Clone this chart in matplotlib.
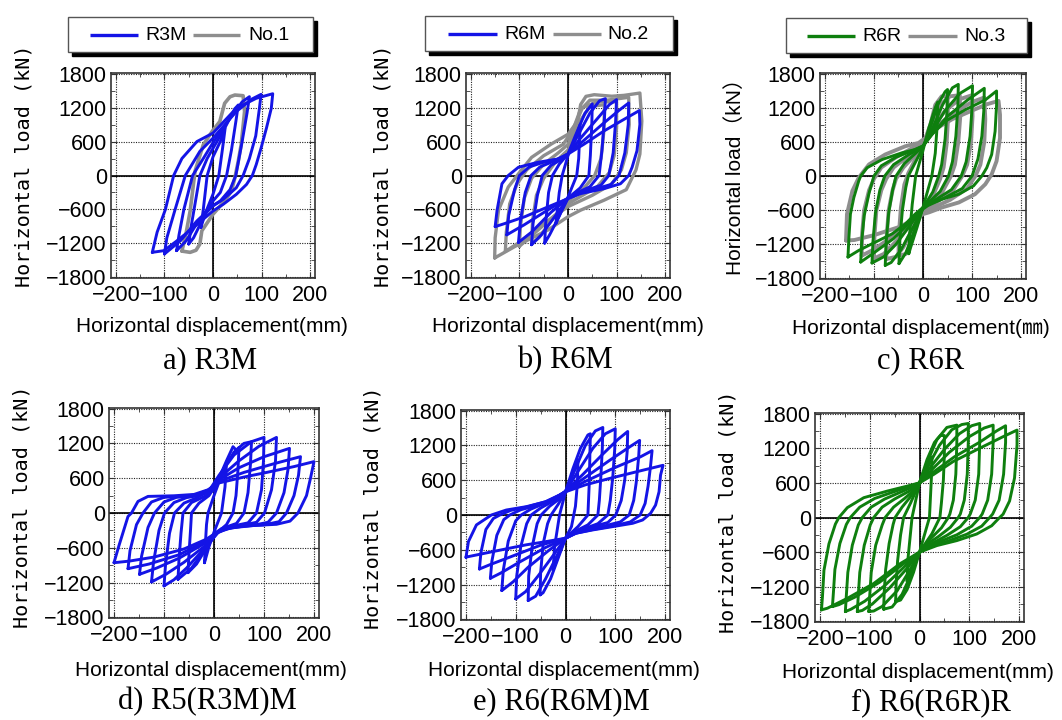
import matplotlib
matplotlib.use("Agg")
import matplotlib.pyplot as plt
from matplotlib.lines import Line2D
from matplotlib.patches import Rectangle

plt.rcParams['font.family'] = ['Liberation Sans', 'DejaVu Sans']

W, H = 1062, 720

# every loop: from the negative peak up to the positive peak and back down
r3m = [
    [(-25, -918), (-20, -600), (-12, 0), (0, 330), (15, 600), (25, 836),
     (20, 500), (12, 0), (0, -330), (-15, -650), (-25, -918)],
    [(-50, -1210), (-45, -900), (-37, -500), (-27, 0), (-12, 300), (0, 480), (25, 850), (45, 1180), (52, 1245),
     (47, 950), (38, 450), (28, 0), (15, -300), (0, -450), (-20, -750), (-40, -1100), (-50, -1210)],
    [(-75, -1327), (-70, -1050), (-60, -600), (-42, 0), (-20, 300), (0, 580), (30, 950), (60, 1300), (75, 1392),
     (70, 1100), (60, 600), (47, 0), (35, -250), (15, -450), (0, -530), (-30, -800), (-55, -1150), (-75, -1327)],
    [(-100, -1386), (-95, -1100), (-78, -600), (-57, 0), (-27, 427), (0, 660), (48, 1129), (80, 1350), (99, 1433),
     (95, 1150), (88, 700), (75, 300), (62, 0), (48, -216), (21, -421), (0, -538), (-33, -801), (-67, -1152),
     (-100, -1386)],
    [(-125, -1357), (-115, -1000), (-98, -600), (-81, 0), (-64, 300), (-33, 600), (0, 749), (48, 1187), (89, 1363),
     (123, 1444), (120, 1187), (110, 836), (99, 485), (89, 193), (81, 0), (69, -158), (48, -333), (21, -509),
     (0, -626), (-40, -918), (-74, -1152), (-101, -1327), (-125, -1357)],
]
no1 = [
    [(-64, -1335), (-55, -1000), (-47, -626), (-37, 76), (-20, 544), (0, 800), (14, 953), (24, 1275), (35, 1390),
     (45, 1421), (62, 1409), (65, 1128), (58, 544), (52, 251), (45, -41), (38, -275), (24, -450), (0, -684),
     (-23, -977), (-27, -1210), (-35, -1320), (-47, -1357), (-64, -1335)],
]

r6m = [
    [(-25, -850), (-18, -300), (-12, 0), (0, 350), (15, 650), (25, 900),
     (22, 300), (18, 0), (0, -380), (-15, -650), (-25, -850)],
    [(-48, -1194), (-46, -850), (-40, -300), (-32, 0), (-18, 200), (0, 380), (15, 700), (35, 1100), (50, 1264),
     (49, 900), (46, 350), (43, 0), (25, -220), (0, -400), (-20, -750), (-38, -1050), (-48, -1194)],
    [(-75, -1223), (-72, -850), (-63, -350), (-53, 0), (-35, 180), (-12, 290), (0, 380), (20, 700), (45, 1100),
     (65, 1320), (77, 1357), (75, 1000), (70, 450), (64, 0), (45, -200), (15, -320), (0, -400), (-25, -700),
     (-55, -1050), (-75, -1223)],
    [(-102, -1182), (-98, -800), (-88, -300), (-76, 0), (-58, 150), (-30, 250), (0, 380), (25, 650), (60, 1000),
     (85, 1250), (100, 1340), (98, 950), (93, 400), (84, 0), (68, -170), (32, -280), (0, -400), (-35, -650),
     (-75, -1000), (-102, -1182)],
    [(-126, -1048), (-122, -700), (-110, -250), (-100, 0), (-80, 150), (-50, 235), (-15, 300), (0, 380), (30, 600),
     (70, 900), (105, 1150), (125, 1281), (124, 900), (117, 400), (105, 0), (88, -160), (55, -240), (15, -330),
     (0, -400), (-40, -600), (-90, -870), (-126, -1048)],
    [(-150, -903), (-146, -612), (-136, -146), (-123, 0), (-102, 146), (-62, 233), (-21, 291), (0, 379), (33, 553),
     (74, 786), (115, 990), (147, 1147), (148, 903), (142, 437), (132, 146), (125, 0), (108, -146), (74, -233),
     (26, -320), (0, -408), (-41, -553), (-89, -728), (-129, -845), (-150, -903)],
]
no2 = [
    [(-151, -1456), (-150, -1100), (-143, -612), (-123, -204), (-102, 29), (-75, 320), (-35, 553), (0, 728),
     (20, 961), (26, 1252), (37, 1398), (54, 1427), (90, 1400), (115, 1415), (148, 1456), (152, 961), (148, 379),
     (140, 100), (120, -250), (74, -437), (26, -612), (0, -728), (-41, -961), (-109, -1252), (-151, -1456)],
    [(-129, -1340), (-127, -1000), (-120, -500), (-105, -150), (-85, 100), (-50, 350), (-10, 550), (10, 800),
     (25, 1150), (45, 1330), (80, 1330), (125, 1380), (126, 900), (120, 400), (110, 100), (90, -150), (50, -350),
     (0, -550), (-50, -850), (-100, -1180), (-129, -1340)],
    [(-100, -1250), (-98, -900), (-90, -400), (-75, -50), (-50, 200), (-20, 400), (0, 550), (15, 900), (30, 1200),
     (60, 1300), (100, 1300), (100, 850), (95, 350), (85, 50), (60, -200), (20, -400), (0, -500), (-40, -800),
     (-80, -1100), (-100, -1250)],
    [(-75, -1200), (-73, -800), (-65, -350), (-50, -50), (-25, 250), (0, 450), (20, 900), (45, 1220), (75, 1250),
     (74, 800), (68, 300), (55, 0), (30, -250), (0, -450), (-35, -800), (-60, -1100), (-75, -1200)],
]

r6r = [
    [(-29, -1366), (-27, -1000), (-22, -500), (-15, 0), (0, 450), (12, 850), (25, 1200), (30, 1300),
     (29, 900), (25, 400), (18, 0), (0, -550), (-12, -900), (-25, -1250), (-29, -1366)],
    [(-49, -1541), (-47, -1100), (-42, -600), (-35, -200), (-30, 0), (-15, 250), (0, 500), (15, 850), (30, 1250),
     (45, 1480), (50, 1520), (49, 1150), (45, 650), (38, 200), (32, 0), (20, -280), (0, -560), (-15, -900),
     (-35, -1350), (-49, -1541)],
    [(-77, -1570), (-75, -1150), (-70, -650), (-62, -250), (-55, 0), (-38, 220), (-15, 400), (0, 520), (20, 850),
     (40, 1250), (60, 1550), (72, 1610), (71, 1200), (67, 700), (60, 250), (52, 0), (35, -270), (10, -480),
     (0, -560), (-20, -900), (-45, -1300), (-65, -1520), (-77, -1570)],
    [(-104, -1529), (-102, -1150), (-97, -650), (-88, -250), (-78, 0), (-60, 200), (-30, 370), (0, 520), (20, 800),
     (45, 1150), (75, 1450), (101, 1587), (100, 1200), (96, 700), (88, 250), (78, 0), (58, -240), (25, -420),
     (0, -560), (-25, -850), (-55, -1200), (-80, -1420), (-104, -1529)],
    [(-127, -1512), (-125, -1150), (-120, -700), (-110, -300), (-100, 0), (-85, 180), (-55, 330), (-20, 450),
     (0, 530), (20, 750), (50, 1050), (90, 1330), (125, 1541), (124, 1150), (120, 700), (112, 300), (100, 0),
     (80, -220), (45, -380), (10, -520), (0, -580), (-25, -800), (-60, -1100), (-100, -1350), (-127, -1512)],
    [(-153, -1424), (-151, -1076), (-148, -669), (-141, -378), (-131, -87), (-127, 0), (-114, 145), (-83, 291),
     (-43, 407), (-16, 465), (0, 523), (18, 727), (45, 959), (86, 1163), (127, 1337), (150, 1494), (150, 1250),
     (147, 785), (140, 378), (130, 145), (120, 0), (103, -174), (73, -320), (39, -407), (12, -494), (0, -552),
     (-16, -669), (-36, -843), (-63, -1017), (-104, -1192), (-131, -1308), (-153, -1424)],
]
no3 = [
    [(-50, -1400), (-49, -1000), (-45, -550), (-38, -150), (-30, 50), (-15, 300), (0, 550), (15, 900), (25, 1250),
     (38, 1400), (50, 1400), (51, 1000), (48, 550), (42, 150), (35, -50), (20, -350), (0, -600), (-15, -900),
     (-25, -1200), (-35, -1370), (-50, -1400)],
    [(-75, -1460), (-74, -1050), (-70, -600), (-62, -250), (-55, -50), (-40, 150), (-15, 380), (0, 560), (18, 900),
     (35, 1250), (55, 1400), (75, 1420), (76, 1050), (72, 600), (65, 200), (57, 0), (40, -270), (10, -520),
     (0, -600), (-20, -900), (-40, -1250), (-55, -1420), (-75, -1460)],
    [(-100, -1450), (-99, -1050), (-95, -600), (-85, -250), (-75, -50), (-60, 150), (-30, 350), (0, 560), (20, 850),
     (45, 1150), (75, 1350), (100, 1420), (101, 1050), (98, 600), (90, 200), (80, 0), (62, -240), (30, -450),
     (0, -620), (-25, -850), (-55, -1150), (-80, -1370), (-100, -1450)],
    [(-125, -1400), (-124, -1000), (-120, -600), (-110, -250), (-100, -50), (-85, 150), (-55, 330), (-20, 500),
     (0, 600), (25, 850), (60, 1100), (100, 1300), (125, 1380), (127, 1000), (125, 600), (117, 200), (107, 0),
     (90, -220), (55, -420), (20, -560), (0, -640), (-20, -780), (-60, -1050), (-100, -1290), (-125, -1400)],
    [(-157, -1134), (-156, -900), (-155, -669), (-144, -262), (-131, -29), (-110, 204), (-77, 378), (-36, 523),
     (-9, 581), (5, 669), (30, 850), (60, 1000), (100, 1150), (130, 1260), (154, 1320), (157, 1076), (157, 669),
     (150, 262), (140, 29), (127, -145), (106, -320), (73, -465), (39, -552), (12, -640), (0, -669), (-16, -760),
     (-50, -900), (-100, -1040), (-140, -1125), (-157, -1134)],
]

r5_r3m_m = [
    [(-19, -857), (-17, -500), (-15, -200), (-12, 0), (0, 300), (15, 650), (25, 850),
     (22, 450), (15, 0), (0, -330), (-10, -580), (-19, -857)],
    [(-52, -1029), (-50, -700), (-47, -300), (-45, 0), (-30, 170), (-10, 300), (5, 500), (25, 900), (38, 1143),
     (45, 1080), (50, 1130), (48, 750), (44, 300), (38, 0), (25, -200), (5, -350), (-15, -600), (-35, -880),
     (-52, -1029)],
    [(-72, -1143), (-70, -800), (-66, -350), (-62, 0), (-45, 180), (-20, 280), (0, 400), (15, 700), (40, 1050),
     (60, 1200), (75, 1229), (73, 850), (68, 350), (60, 0), (45, -180), (15, -270), (0, -360), (-20, -650),
     (-45, -950), (-72, -1143)],
    [(-100, -1257), (-97, -900), (-89, -350), (-79, 0), (-60, 170), (-35, 260), (-10, 380), (10, 650), (40, 1000),
     (75, 1230), (100, 1303), (99, 900), (95, 400), (85, 0), (68, -170), (35, -230), (8, -340), (-20, -620),
     (-55, -950), (-80, -1150), (-100, -1257)],
    [(-125, -1189), (-121, -850), (-110, -300), (-99, 0), (-80, 180), (-55, 265), (-25, 310), (-5, 420), (10, 600),
     (50, 900), (90, 1150), (125, 1303), (123, 900), (115, 400), (101, 0), (85, -160), (55, -215), (20, -270),
     (5, -350), (-20, -580), (-60, -850), (-95, -1050), (-125, -1189)],
    [(-149, -1057), (-145, -750), (-132, -250), (-119, 0), (-100, 190), (-75, 270), (-40, 295), (-10, 400),
     (8, 560), (50, 780), (100, 970), (151, 1114), (148, 750), (140, 350), (125, 0), (108, -160), (80, -210),
     (40, -240), (8, -330), (-20, -530), (-70, -780), (-115, -950), (-149, -1057)],
    [(-172, -960), (-168, -650), (-155, -200), (-142, 0), (-125, 190), (-100, 270), (-60, 290), (-30, 320),
     (-10, 400), (8, 540), (60, 700), (120, 850), (173, 971), (169, 650), (160, 300), (145, 0), (130, -150),
     (100, -205), (60, -225), (20, -280), (5, -340), (-20, -500), (-70, -720), (-130, -880), (-172, -960)],
    [(-200, -857), (-190, -560), (-172, -60), (-165, 0), (-152, 200), (-132, 286), (-80, 297), (-40, 320),
     (-12, 400), (8, 514), (60, 620), (100, 690), (160, 800), (200, 886), (193, 600), (185, 300), (168, 0),
     (152, -140), (125, -195), (80, -215), (30, -260), (8, -320), (-15, -450), (-60, -620), (-120, -760),
     (-170, -830), (-200, -857)],
]

r6_r6m_m = [
    [(-25, -950), (-22, -550), (-12, 0), (0, 400), (12, 650), (25, 950),
     (24, 550), (20, 150), (12, -200), (0, -400), (-12, -650), (-25, -950)],
    [(-51, -1377), (-50, -1000), (-45, -500), (-36, -150), (-29, 0), (-15, 180), (0, 400), (15, 800), (30, 1150),
     (45, 1380), (50, 1400), (49, 1050), (48, 600), (46, 200), (45, 0), (25, -200), (0, -400), (-15, -750),
     (-30, -1100), (-45, -1340), (-51, -1377)],
    [(-75, -1474), (-74, -1050), (-67, -550), (-57, -150), (-49, 0), (-32, 150), (-12, 280), (0, 400), (20, 800),
     (40, 1200), (60, 1450), (75, 1509), (74, 1150), (71, 650), (68, 250), (65, 0), (45, -170), (15, -300),
     (0, -400), (-20, -750), (-40, -1100), (-60, -1400), (-75, -1474)],
    [(-100, -1446), (-98, -1050), (-90, -550), (-78, -150), (-69, 0), (-50, 120), (-25, 240), (0, 400), (25, 750),
     (55, 1150), (80, 1400), (100, 1486), (99, 1150), (95, 650), (90, 250), (85, 0), (65, -150), (30, -260),
     (0, -400), (-25, -700), (-55, -1050), (-80, -1320), (-100, -1446)],
    [(-128, -1303), (-125, -950), (-115, -450), (-100, -100), (-89, 0), (-70, 100), (-45, 190), (-20, 290),
     (0, 410), (35, 700), (75, 1050), (105, 1300), (125, 1440), (124, 1100), (119, 600), (112, 250), (101, 0),
     (85, -130), (55, -200), (20, -300), (0, -400), (-35, -620), (-75, -900), (-105, -1150), (-128, -1303)],
    [(-151, -1091), (-148, -800), (-138, -350), (-124, -80), (-112, 0), (-90, 90), (-60, 160), (-30, 250),
     (-10, 350), (0, 410), (40, 650), (90, 950), (130, 1180), (149, 1286), (147, 1000), (142, 550), (137, 250),
     (128, 0), (110, -120), (80, -185), (45, -250), (18, -320), (0, -400), (-40, -560), (-90, -800),
     (-130, -1000), (-151, -1091)],
    [(-173, -931), (-170, -650), (-160, -250), (-145, -60), (-132, 0), (-110, 80), (-75, 145), (-40, 230),
     (-12, 343), (0, 400), (40, 580), (100, 820), (150, 1000), (174, 1109), (171, 850), (166, 500), (160, 200),
     (150, 0), (130, -120), (95, -190), (55, -250), (21, -314), (0, -400), (-50, -520), (-110, -720),
     (-150, -850), (-173, -931)],
    [(-200, -731), (-195, -457), (-179, -171), (-149, 0), (-119, 86), (-79, 143), (-39, 229), (-12, 343), (0, 400),
     (40, 520), (88, 629), (155, 771), (196, 857), (191, 686), (188, 400), (181, 171), (171, 29), (155, -86),
     (135, -143), (95, -200), (55, -257), (21, -314), (0, -400), (-40, -460), (-79, -514), (-145, -629),
     (-200, -726)],
]

r6_r6r_r = [
    [(-25, -1100), (-23, -700), (-15, 0), (0, 600), (12, 850), (25, 1050),
     (24, 700), (20, 0), (0, -600), (-12, -850), (-25, -1100)],
    [(-48, -1457), (-47, -1150), (-44, -750), (-38, -300), (-32, 0), (-18, 250), (0, 600), (15, 1000), (30, 1300),
     (42, 1420), (50, 1420), (50, 1100), (48, 650), (44, 250), (41, 0), (25, -280), (0, -600), (-12, -950),
     (-25, -1250), (-38, -1430), (-48, -1457)],
    [(-72, -1589), (-71, -1300), (-68, -900), (-61, -450), (-53, -120), (-49, 0), (-35, 180), (-18, 360), (0, 600),
     (15, 950), (35, 1350), (55, 1560), (75, 1600), (75, 1280), (73, 750), (68, 300), (61, 60), (58, 0),
     (44, -180), (22, -370), (0, -600), (-15, -950), (-35, -1330), (-55, -1550), (-72, -1589)],
    [(-102, -1629), (-100, -1350), (-97, -950), (-88, -480), (-75, -130), (-69, 0), (-52, 180), (-30, 330),
     (-10, 480), (0, 600), (18, 900), (40, 1250), (65, 1520), (85, 1610), (98, 1629), (98, 1300), (96, 750),
     (90, 300), (82, 60), (78, 0), (62, -170), (38, -330), (12, -480), (0, -600), (-20, -920), (-45, -1270),
     (-75, -1540), (-92, -1620), (-102, -1629)],
    [(-125, -1629), (-123, -1350), (-120, -950), (-111, -480), (-99, -130), (-92, 0), (-75, 180), (-50, 320),
     (-20, 460), (0, 600), (20, 850), (50, 1180), (80, 1450), (105, 1590), (121, 1629), (121, 1300), (119, 750),
     (112, 300), (102, 60), (98, 0), (82, -160), (55, -310), (25, -450), (0, -600), (-25, -880), (-60, -1220),
     (-95, -1500), (-115, -1610), (-125, -1629)],
    [(-149, -1629), (-147, -1350), (-144, -950), (-135, -480), (-123, -130), (-115, 0), (-97, 180), (-70, 320),
     (-35, 450), (-12, 540), (0, 600), (25, 830), (60, 1130), (100, 1400), (130, 1550), (148, 1600), (148, 1300),
     (145, 750), (137, 300), (126, 60), (121, 0), (105, -150), (75, -300), (40, -420), (15, -520), (0, -600),
     (-30, -850), (-70, -1180), (-110, -1450), (-138, -1590), (-149, -1629)],
    [(-175, -1543), (-173, -1300), (-170, -900), (-160, -450), (-147, -120), (-139, 0), (-120, 180), (-90, 330),
     (-50, 450), (-20, 540), (0, 600), (30, 800), (70, 1050), (120, 1300), (155, 1500), (173, 1589), (173, 1300),
     (169, 750), (160, 300), (147, 60), (141, 0), (125, -150), (95, -290), (60, -400), (25, -500), (0, -600),
     (-35, -820), (-80, -1120), (-130, -1380), (-162, -1510), (-175, -1543)],
    [(-197, -1600), (-195, -1371), (-192, -914), (-182, -457), (-169, -114), (-162, 0), (-145, 171), (-112, 343),
     (-65, 457), (-25, 543), (0, 600), (28, 743), (68, 971), (121, 1200), (168, 1400), (196, 1514), (196, 1257),
     (191, 686), (181, 286), (168, 57), (161, 0), (145, -143), (115, -286), (75, -400), (35, -486), (0, -600),
     (-39, -800), (-92, -1143), (-145, -1400), (-185, -1571), (-197, -1600)],
]

BLUE = '#1414e6'
GREEN = '#0e7f0e'
GRAY = '#8e8e8e'

fig = plt.figure(figsize=(W / 100, H / 100), dpi=100)


def px(x, y):
    return x / W, 1 - y / H


def add_axes(l, r, t, b):
    ax = fig.add_axes([l / W, 1 - b / H, (r - l) / W, (b - t) / H])
    ax.set_xlim(-210, 210)
    ax.set_ylim(-1810, 1810)
    ax.set_xticks([-200, -100, 0, 100, 200])
    ax.set_xticks(range(-200, 201, 50), minor=True)
    ax.set_yticks(range(-1800, 1801, 600))
    ax.set_yticks(range(-1800, 1801, 300), minor=True)
    ax.set_axisbelow(True)
    ax.grid(True, which='major', color='#222222', lw=0.8, ls=(0, (1, 1.2)))
    ax.axhline(0, color='k', lw=1.2, zorder=1)
    ax.axvline(0, color='k', lw=1.2, zorder=1)
    ax.tick_params(which='both', direction='in', top=True, right=True, labelsize=15.5, color='#333333')
    ax.tick_params(which='major', length=4)
    ax.tick_params(which='minor', length=3)
    ax.tick_params(axis='x', pad=5)
    ax.tick_params(axis='y', pad=3)
    for s in ax.spines.values():
        s.set_color('#333333')
        s.set_linewidth(1.2)
    return ax


def draw(ax, loops, color, lw):
    for loop in loops:
        xs = [p[0] for p in loop]
        ys = [p[1] for p in loop]
        ax.plot(xs, ys, color=color, lw=lw, solid_joinstyle='round', solid_capstyle='round', zorder=3)


def legend_box(x0, y0, x1, y1, items):
    # shadow and frame
    sx, sy = px(x0 + 4, y1 + 4)
    fig.add_artist(Rectangle((sx, sy), (x1 - x0) / W, (y1 - y0) / H, transform=fig.transFigure,
                             facecolor='black', edgecolor='black', zorder=5))
    bx, by = px(x0, y1)
    fig.add_artist(Rectangle((bx, by), (x1 - x0) / W, (y1 - y0) / H, transform=fig.transFigure,
                             facecolor='white', edgecolor='#555555', lw=1.0, zorder=6))
    yc = (y0 + y1) / 2
    for (la, lb, tx, label, color) in items:
        a = px(la, yc)
        b = px(lb, yc)
        fig.add_artist(Line2D([a[0], b[0]], [a[1], b[1]], transform=fig.transFigure,
                              color=color, lw=2.4, solid_capstyle='butt', zorder=7))
        fig.text(*px(tx, yc + 1), label, fontsize=14, ha='left', va='center', zorder=8)


mono_label = 'Horizontal load (kN)'
xlabel = 'Horizontal displacement(mm)'

panels = [
    # axes box, series, ylabel pos, xlabel pos, caption, caption pos
    dict(box=(111, 315, 73, 278), series=[(no1, GRAY, 2.6), (r3m, BLUE, 2.1)], yl=(24, 166), xl=(212, 327),
         cap='a) R3M', cp=(210, 361)),
    dict(box=(466, 670, 73, 278), series=[(no2, GRAY, 2.4), (r6m, BLUE, 2.1)], yl=(383, 166), xl=(568, 327),
         cap='b) R6M', cp=(565, 361)),
    dict(box=(820, 1026, 73, 279), series=[(no3, GRAY, 2.8), (r6r, GREEN, 2.1)], yl=(735, 172), xl=(921, 329),
         cap='c) R6R', cp=(921, 361)),
    dict(box=(109, 319, 408, 618), series=[(r5_r3m_m, BLUE, 2.1)], yl=(22, 507), xl=(211, 670),
         cap='d) R5(R3M)M', cp=(207, 702)),
    dict(box=(461, 670, 410, 620), series=[(r6_r6m_m, BLUE, 2.1)], yl=(373, 508), xl=(564, 670),
         cap='e) R6(R6M)M', cp=(561, 702)),
    dict(box=(815, 1024, 413, 622), series=[(r6_r6r_r, GREEN, 2.1)], yl=(728, 512), xl=(918, 673),
         cap='f) R6(R6R)R', cp=(931, 703)),
]

for i, p in enumerate(panels):
    ax = add_axes(*p['box'])
    for loops, color, lw in p['series']:
        draw(ax, loops, color, lw)
    if i == 2:
        fig.text(*px(*p['yl']), 'Horizontal load（kN）', rotation=90, fontsize=15, ha='center', va='center',
                 family=['Liberation Sans', 'Noto Sans CJK JP'])
        fig.text(*px(*p['xl']), 'Horizontal displacement(㎜)', fontsize=15, ha='center', va='center',
                 family=['Liberation Sans', 'Noto Sans CJK JP'])
    else:
        fig.text(*px(*p['yl']), mono_label, rotation=90, fontsize=14.5, ha='center', va='center',
                 family='DejaVu Sans Mono')
        fig.text(*px(*p['xl']), xlabel, fontsize=15, ha='center', va='center')
    fig.text(*px(*p['cp']), p['cap'], fontsize=22, ha='center', va='center', family='Liberation Serif')

legend_box(68, 17, 313, 52, [(90, 138, 145, 'R3M', BLUE), (193, 240, 248, 'No.1', GRAY)])
legend_box(425, 16, 673, 51, [(448, 497, 504, 'R6M', BLUE), (553, 601, 607, 'No.2', GRAY)])
legend_box(786, 18, 1027, 53, [(807, 855, 862, 'R6R', GREEN), (908, 957, 964, 'No.3', GRAY)])

fig.savefig('out.png', dpi=100)
